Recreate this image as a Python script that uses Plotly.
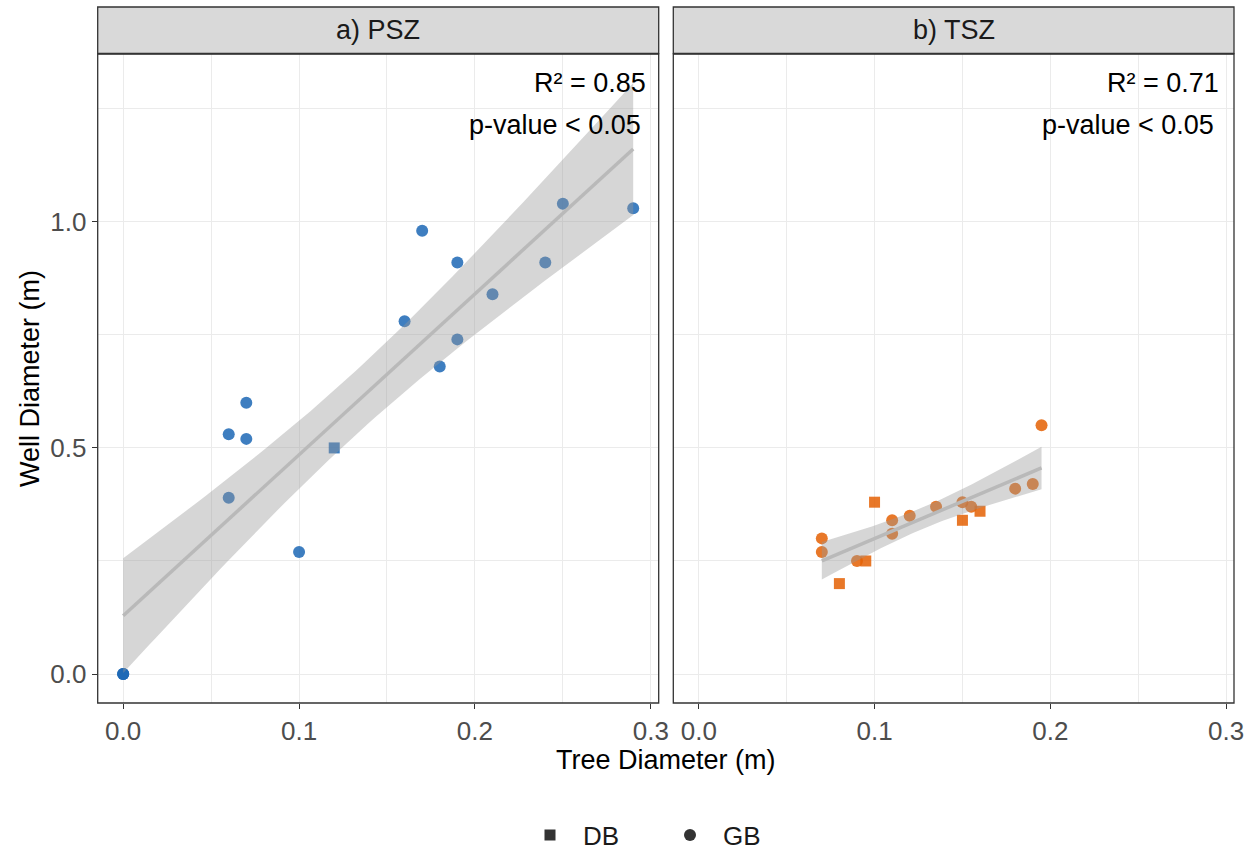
import math
import numpy as np
import plotly.graph_objects as go

# ---------------- data ----------------
panel_titles = ["a) PSZ", "b) TSZ"]
r2_labels = ["R² = 0.85", "R² = 0.71"]
p_labels = ["p-value < 0.05", "p-value < 0.05"]

psz_db_x = [0.12]
psz_db_y = [0.50]
psz_gb_x = [0.0, 0.0, 0.0, 0.06, 0.06, 0.07, 0.07, 0.10, 0.16, 0.17, 0.18, 0.19, 0.19, 0.21, 0.24, 0.25, 0.29]
psz_gb_y = [0.0, 0.0, 0.0, 0.39, 0.53, 0.52, 0.60, 0.27, 0.78, 0.98, 0.68, 0.91, 0.74, 0.84, 0.91, 1.04, 1.03]

tsz_db_x = [0.08, 0.095, 0.10, 0.15, 0.16]
tsz_db_y = [0.20, 0.25, 0.38, 0.34, 0.36]
tsz_gb_x = [0.07, 0.07, 0.09, 0.11, 0.11, 0.12, 0.135, 0.15, 0.155, 0.18, 0.19, 0.195]
tsz_gb_y = [0.30, 0.27, 0.25, 0.34, 0.31, 0.35, 0.37, 0.38, 0.37, 0.41, 0.42, 0.55]

x_ticks = [0.0, 0.1, 0.2, 0.3]
y_ticks = [0.0, 0.5, 1.0]

# ---------------- styles ----------------
W, H = 1255, 851
FONT = "Liberation Sans, Arial, Helvetica, sans-serif"
BLUE = "rgba(30,105,182,0.86)"
ORANGE = "rgba(228,98,6,0.86)"
RIBBON = "rgba(153,153,153,0.4)"
LINE = "rgba(185,185,185,1)"


def px_x(p):
    return p / W


def px_y(p):
    return 1 - p / H


def t_quantile(p, df):
    c = math.gamma((df + 1) / 2) / (math.sqrt(df * math.pi) * math.gamma(df / 2))

    def cdf(t):
        xs = np.linspace(0, t, 4001)
        pdf = c * (1 + xs ** 2 / df) ** (-(df + 1) / 2)
        return 0.5 + np.trapezoid(pdf, xs)

    lo, hi = 0.0, 20.0
    for _ in range(60):
        mid = (lo + hi) / 2
        if cdf(mid) < p:
            lo = mid
        else:
            hi = mid
    return (lo + hi) / 2


def smooth(xv, yv):
    x = np.asarray(xv, float)
    y = np.asarray(yv, float)
    n = len(x)
    b1, b0 = np.polyfit(x, y, 1)
    res = y - (b0 + b1 * x)
    s = math.sqrt(np.sum(res ** 2) / (n - 2))
    xm = x.mean()
    sxx = np.sum((x - xm) ** 2)
    xg = np.linspace(x.min(), x.max(), 80)
    yh = b0 + b1 * xg
    se = s * np.sqrt(1 / n + (xg - xm) ** 2 / sxx)
    t = t_quantile(0.975, n - 2)
    return xg, yh, yh + t * se, yh - t * se


fig = go.Figure()

panels = [
    (psz_db_x, psz_db_y, psz_gb_x, psz_gb_y, BLUE, "x", "y"),
    (tsz_db_x, tsz_db_y, tsz_gb_x, tsz_gb_y, ORANGE, "x2", "y2"),
]

for dbx, dby, gbx, gby, col, xa, ya in panels:
    fig.add_trace(go.Scatter(x=gbx, y=gby, mode="markers", xaxis=xa, yaxis=ya,
                             marker=dict(symbol="circle", size=12, color=col, line=dict(width=0)),
                             showlegend=False, hoverinfo="skip"))
    fig.add_trace(go.Scatter(x=dbx, y=dby, mode="markers", xaxis=xa, yaxis=ya,
                             marker=dict(symbol="square", size=11, color=col, line=dict(width=0)),
                             showlegend=False, hoverinfo="skip"))
    allx = list(dbx) + list(gbx)
    ally = list(dby) + list(gby)
    xg, yh, up, lo = smooth(allx, ally)
    fig.add_trace(go.Scatter(x=np.concatenate([xg, xg[::-1]]), y=np.concatenate([up, lo[::-1]]),
                             fill="toself", fillcolor=RIBBON, line=dict(width=0), mode="lines",
                             xaxis=xa, yaxis=ya, showlegend=False, hoverinfo="skip"))
    fig.add_trace(go.Scatter(x=xg, y=yh, mode="lines", line=dict(color=LINE, width=3.5),
                             xaxis=xa, yaxis=ya, showlegend=False, hoverinfo="skip"))

# legend entries
fig.add_trace(go.Scatter(x=[None], y=[None], mode="markers", name="DB",
                         marker=dict(symbol="square", size=11, color="#333333")))
fig.add_trace(go.Scatter(x=[None], y=[None], mode="markers", name="GB",
                         marker=dict(symbol="circle", size=12, color="#333333")))

xdomA = [px_x(97.7), px_x(658.7)]
xdomB = [px_x(673.3), px_x(1234)]
ydom = [px_y(703), px_y(54)]
xr = [-0.0145, 0.3045]
yr = [-0.064, 1.371]

common_x = dict(range=xr, tickvals=x_ticks, ticktext=[f"{v:.1f}" for v in x_ticks],
                showgrid=True, gridcolor="#ebebeb", gridwidth=1.4, zeroline=False,
                ticks="outside", ticklen=5, tickwidth=1.1, tickcolor="#333333",
                tickfont=dict(size=26, color="#4d4d4d", family=FONT),
                minor=dict(tickvals=[0.05, 0.15, 0.25], showgrid=True, gridcolor="#ebebeb", gridwidth=0.8),
                showline=False, fixedrange=True, automargin=False)
common_y = dict(range=yr, tickvals=y_ticks, ticktext=[f"{v:.1f}" for v in y_ticks],
                showgrid=True, gridcolor="#ebebeb", gridwidth=1.4, zeroline=False,
                minor=dict(tickvals=[0.25, 0.75, 1.25], showgrid=True, gridcolor="#ebebeb", gridwidth=0.8),
                showline=False, fixedrange=True, automargin=False)

fig.update_layout(
    width=W, height=H, autosize=False,
    margin=dict(l=0, r=0, t=0, b=0, pad=0, autoexpand=False),
    paper_bgcolor="white", plot_bgcolor="white",
    font=dict(family=FONT, color="#1a1a1a"),
    xaxis=dict(domain=xdomA, anchor="y", **common_x),
    xaxis2=dict(domain=xdomB, anchor="y2", **common_x),
    yaxis=dict(domain=ydom, anchor="x", ticks="outside", ticklen=5, tickwidth=1.1, tickcolor="#333333",
               tickfont=dict(size=26, color="#4d4d4d", family=FONT), **common_y),
    yaxis2=dict(domain=ydom, anchor="x2", showticklabels=False, ticks="", **common_y),
    legend=dict(orientation="h", x=px_x(517), xanchor="left", y=px_y(835), yanchor="middle",
                font=dict(size=26, color="#1a1a1a", family=FONT), itemwidth=56,
                entrywidth=69, entrywidthmode="pixels", bgcolor="rgba(0,0,0,0)"),
    showlegend=True,
)

shapes = []
annotations = []
for i, (xref, yref) in enumerate([("x", "y"), ("x2", "y2")]):
    shapes.append(dict(type="rect", xref=f"{xref} domain", yref=f"{yref} domain", x0=0, x1=1, y0=0, y1=1,
                       line=dict(color="#333333", width=1.3), fillcolor="rgba(0,0,0,0)", layer="above"))
    shapes.append(dict(type="rect", xref=f"{xref} domain", yref="paper", x0=0, x1=1,
                       y0=px_y(53.5), y1=px_y(7), line=dict(color="#333333", width=1.3),
                       fillcolor="#d9d9d9", layer="above"))
    annotations.append(dict(text=panel_titles[i], xref=f"{xref} domain", yref="paper", x=0.5,
                            y=px_y(30), xanchor="center", yanchor="middle", showarrow=False,
                            font=dict(size=27, color="#1a1a1a", family=FONT)))

annotations.append(dict(text=r2_labels[0], xref="paper", yref="paper", x=px_x(648), y=px_y(83),
                        xanchor="right", yanchor="middle", showarrow=False,
                        font=dict(size=27, color="black", family=FONT)))
annotations.append(dict(text=p_labels[0], xref="paper", yref="paper", x=px_x(643), y=px_y(125),
                        xanchor="right", yanchor="middle", showarrow=False,
                        font=dict(size=27, color="black", family=FONT)))
annotations.append(dict(text=r2_labels[1], xref="paper", yref="paper", x=px_x(1221), y=px_y(83),
                        xanchor="right", yanchor="middle", showarrow=False,
                        font=dict(size=27, color="black", family=FONT)))
annotations.append(dict(text=p_labels[1], xref="paper", yref="paper", x=px_x(1216), y=px_y(125),
                        xanchor="right", yanchor="middle", showarrow=False,
                        font=dict(size=27, color="black", family=FONT)))
# axis titles
annotations.append(dict(text="Tree Diameter (m)", xref="paper", yref="paper", x=px_x(666), y=px_y(760),
                        xanchor="center", yanchor="middle", showarrow=False,
                        font=dict(size=27, color="black", family=FONT)))
annotations.append(dict(text="Well Diameter (m)", xref="paper", yref="paper", x=px_x(30), y=px_y(379),
                        xanchor="center", yanchor="middle", showarrow=False, textangle=-90,
                        font=dict(size=27, color="black", family=FONT)))

fig.update_layout(shapes=shapes, annotations=annotations)

fig.write_html("out.html")
